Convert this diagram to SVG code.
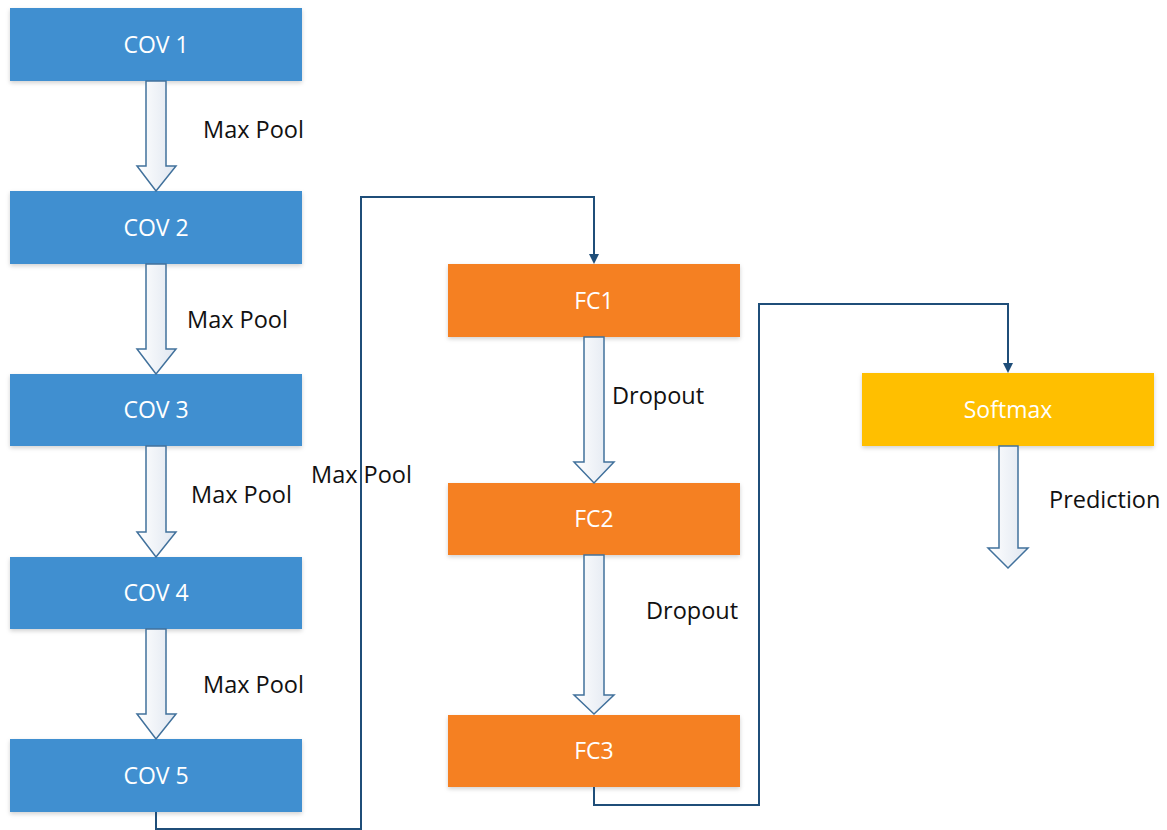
<svg xmlns="http://www.w3.org/2000/svg" width="1167" height="830" viewBox="0 0 1167 830">
<defs>
<linearGradient id="ag" x1="0" y1="0" x2="1" y2="0">
<stop offset="0" stop-color="#ffffff"/>
<stop offset="1" stop-color="#dfe6f0"/>
</linearGradient>
<filter id="sh" x="-5%" y="-10%" width="110%" height="130%">
<feDropShadow dx="0" dy="2" stdDeviation="2" flood-color="#000" flood-opacity="0.18"/>
</filter>
<marker id="ah" markerWidth="10" markerHeight="10" refX="8" refY="5" orient="auto" markerUnits="userSpaceOnUse">
<path d="M0,0 L10,5 L0,10 z" fill="#1f4e79"/>
</marker>
<style>
.blue{fill:#418fd0;filter:url(#sh)}
.orange{fill:#f58024;filter:url(#sh)}
.yellow{fill:#ffbf00;filter:url(#sh)}
.nt{font-family:"Open Sans","Liberation Sans",sans-serif;font-size:23px;fill:#ffffff;text-anchor:middle}
.lb{font-family:"Open Sans","Liberation Sans",sans-serif;font-size:23.5px;fill:#111111}
.barrow{fill:url(#ag);stroke:#41719c;stroke-width:1.5;stroke-linejoin:miter}
.conn{fill:none;stroke:#1f4e79;stroke-width:2}
</style>
</defs>
<rect width="1167" height="830" fill="#ffffff"/>

<g id="cov1"><rect class="blue" x="10" y="8" width="292" height="73"/><text class="nt" x="156" y="53">COV 1</text></g>
<g id="cov2"><rect class="blue" x="10" y="191" width="292" height="73"/><text class="nt" x="156" y="236">COV 2</text></g>
<g id="cov3"><rect class="blue" x="10" y="374" width="292" height="72"/><text class="nt" x="156" y="418">COV 3</text></g>
<g id="cov4"><rect class="blue" x="10" y="557" width="292" height="72"/><text class="nt" x="156" y="601">COV 4</text></g>
<g id="cov5"><rect class="blue" x="10" y="739" width="292" height="73"/><text class="nt" x="156" y="784">COV 5</text></g>
<g id="fc1"><rect class="orange" x="448" y="264" width="292" height="73"/><text class="nt" x="594" y="309">FC1</text></g>
<g id="fc2"><rect class="orange" x="448" y="483" width="292" height="72"/><text class="nt" x="594" y="527">FC2</text></g>
<g id="fc3"><rect class="orange" x="448" y="715" width="292" height="72"/><text class="nt" x="594" y="759">FC3</text></g>
<g id="softmax"><rect class="yellow" x="862" y="373" width="292" height="73"/><text class="nt" x="1008" y="418">Softmax</text></g>

<g id="connectors">
<path class="barrow" d="M146,81 L166,81 L166,166 L176,166 L156,191 L137,166 L146,166 Z"/>
<path class="barrow" d="M146,264 L166,264 L166,349 L176,349 L156,374 L137,349 L146,349 Z"/>
<path class="barrow" d="M146,446 L166,446 L166,532 L176,532 L156,557 L137,532 L146,532 Z"/>
<path class="barrow" d="M146,629 L166,629 L166,714 L176,714 L156,739 L137,714 L146,714 Z"/>
<path class="barrow" d="M584,337 L604,337 L604,462 L614,462 L594,483 L574,462 L584,462 Z"/>
<path class="barrow" d="M584,555 L604,555 L604,695 L614,695 L594,714 L574,695 L584,695 Z"/>
<path class="barrow" d="M999,446 L1018,446 L1018,548 L1028,548 L1008,568 L988,548 L999,548 Z"/>
<path class="conn" d="M156,812 L156,829 L361,829 L361,197 L594,197 L594,262" marker-end="url(#ah)"/>
<path class="conn" d="M594,787 L594,805 L759,805 L759,304 L1008,304 L1008,371" marker-end="url(#ah)"/>
</g>

<g id="labels">
<text class="lb" x="203" y="138">Max Pool</text>
<text class="lb" x="187" y="328">Max Pool</text>
<text class="lb" x="191" y="503">Max Pool</text>
<text class="lb" x="203" y="693">Max Pool</text>
<text class="lb" x="311" y="483">Max Pool</text>
<text class="lb" x="612" y="404">Dropout</text>
<text class="lb" x="646" y="619">Dropout</text>
<text class="lb" x="1049" y="508">Prediction</text>
</g>
</svg>
